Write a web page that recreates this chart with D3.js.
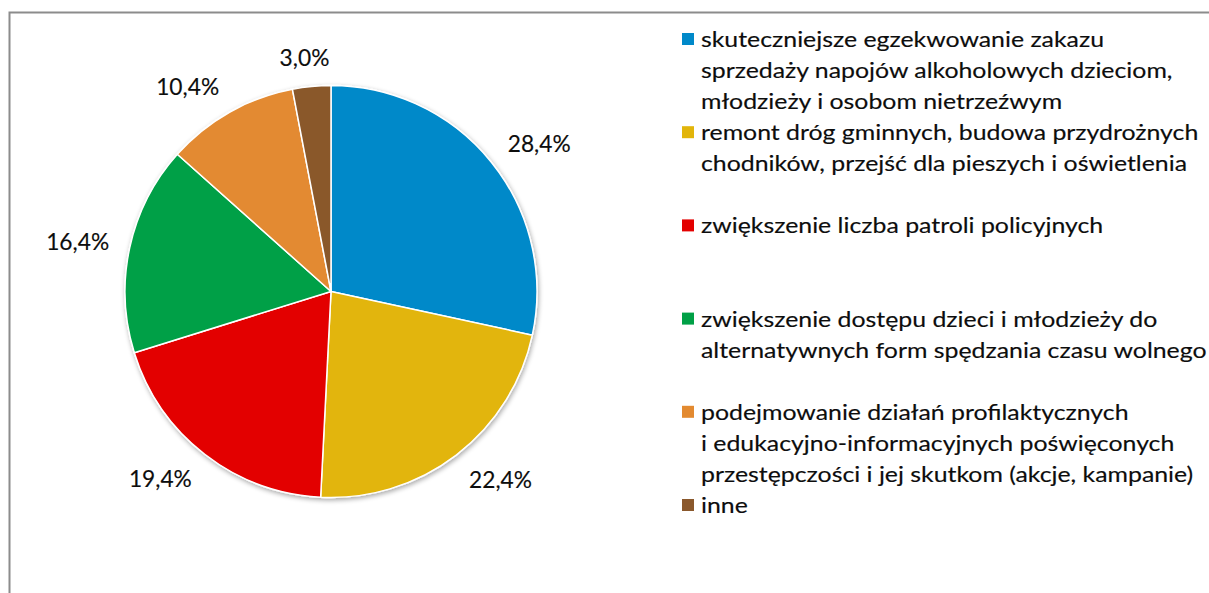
<!DOCTYPE html>
<html>
<head>
<meta charset="utf-8">
<script src="https://cdn.jsdelivr.net/npm/d3@7"></script>
<style>
  html, body { margin: 0; padding: 0; background: #ffffff; }
  svg { display: block; }
</style>
</head>
<body>
<svg id="chart" width="1209" height="593"></svg>
<script>
// Survey answers: which actions would improve safety in the commune
const categories = [
  ["skuteczniejsze egzekwowanie zakazu", "sprzedaży napojów alkoholowych dzieciom,", "młodzieży i osobom nietrzeźwym"],
  ["remont dróg gminnych, budowa przydrożnych", "chodników, przejść dla pieszych i oświetlenia"],
  ["zwiększenie liczba patroli policyjnych"],
  ["zwiększenie dostępu dzieci i młodzieży do", "alternatywnych form spędzania czasu wolnego"],
  ["podejmowanie działań profilaktycznych", "i edukacyjno-informacyjnych poświęconych", "przestępczości i jej skutkom (akcje, kampanie)"],
  ["inne"]
];
const values = [28.4, 22.4, 19.4, 16.4, 10.4, 3.0];
const valueLabels = ["28,4%", "22,4%", "19,4%", "16,4%", "10,4%", "3,0%"];
const colors = ["#0089c9", "#e2b50a", "#e30000", "#00a046", "#e38a30", "#8a582c"];

const svg = d3.select("#chart");
const FONT = "Lato, 'Open Sans', sans-serif";

// chart frame
svg.append("rect")
  .attr("x", 9.5).attr("y", 12.5)
  .attr("width", 1260).attr("height", 640)
  .attr("fill", "#ffffff")
  .attr("stroke", "#8c8c8c")
  .attr("stroke-width", 2);

// soft shadow under the pie
const defs = svg.append("defs");
const shadow = defs.append("filter").attr("id", "pieShadow")
  .attr("x", "-10%").attr("y", "-10%").attr("width", "120%").attr("height", "120%");
shadow.append("feGaussianBlur").attr("in", "SourceAlpha").attr("stdDeviation", 2.5).attr("result", "b");
shadow.append("feOffset").attr("in", "b").attr("dx", 1).attr("dy", 2).attr("result", "o");
shadow.append("feComponentTransfer").attr("in", "o").attr("result", "s")
  .append("feFuncA").attr("type", "linear").attr("slope", 0.35);
const merge = shadow.append("feMerge");
merge.append("feMergeNode").attr("in", "s");
merge.append("feMergeNode").attr("in", "SourceGraphic");

const cx = 331, cy = 291.5, radius = 206;

const pie = d3.pie().sort(null).value(d => d);
const arcs = pie(values);
const arc = d3.arc().innerRadius(0).outerRadius(radius);

const g = svg.append("g").attr("transform", `translate(${cx},${cy})`);
const sliceGroup = g.append("g").attr("filter", "url(#pieShadow)");
sliceGroup.selectAll("path")
  .data(arcs)
  .join("path")
  .attr("d", arc)
  .attr("fill", (d, i) => colors[i])
  .attr("stroke", "#ffffff")
  .attr("stroke-width", 1.5)
  .attr("stroke-linejoin", "round");

// data labels outside each slice end
const labelSize = 24, labelGap = 21;
const labels = g.selectAll("text.value")
  .data(arcs)
  .join("text")
  .attr("class", "value")
  .attr("font-family", FONT)
  .attr("font-size", labelSize)
  .attr("fill", "#0d0d0d")
  .attr("stroke", "#0d0d0d")
  .attr("stroke-width", 0.15)
  .attr("text-anchor", "middle")
  .text((d, i) => valueLabels[i]);

// narrow the label glyphs so that "28,4%" is about 63px wide
let refWidth = 1;
labels.filter((d, i) => i === 0).each(function() { refWidth = this.getComputedTextLength(); });
const labelSquash = 63 / refWidth;

labels.each(function(d) {
  const w = this.getComputedTextLength() * labelSquash;
  const h = labelSize * 0.75;
  const a = (d.startAngle + d.endAngle) / 2;
  const s = Math.sin(a), c = Math.cos(a);
  const px = (radius + labelGap) * s + (w / 2) * Math.max(-1, Math.min(1, s * 2.2));
  const py = -(radius + labelGap) * c - (h / 2) * c;
  d3.select(this).attr("transform",
    `translate(${px},${py + h / 2}) scale(${labelSquash},1)`);
});

// legend
const legendX = 682, legendTextX = 701, legendTop = 47, slot = 93.2, lineH = 31;
const legendSize = 20.5;
const legend = svg.append("g");
const items = legend.selectAll("g.item")
  .data(categories)
  .join("g")
  .attr("class", "item")
  .attr("transform", (d, i) => `translate(0,${legendTop + i * slot})`);

items.append("rect")
  .attr("x", legendX).attr("y", -14)
  .attr("width", 12).attr("height", 12)
  .attr("fill", (d, i) => colors[i]);

const legendTexts = items.selectAll("text")
  .data(d => d)
  .join("text")
  .attr("font-family", FONT)
  .attr("font-size", legendSize)
  .attr("fill", "#0d0d0d")
  .attr("stroke", "#0d0d0d")
  .attr("stroke-width", 0.15)
  .text(d => d);

// fit the widest legend line to the space right of the pie
let widest = 0;
legendTexts.each(function() { widest = Math.max(widest, this.getComputedTextLength()); });
const legendSquash = 506 / widest;
legendTexts.attr("transform", (d, j) =>
  `translate(${legendTextX},${j * lineH}) scale(${legendSquash},1)`);
</script>
</body>
</html>
